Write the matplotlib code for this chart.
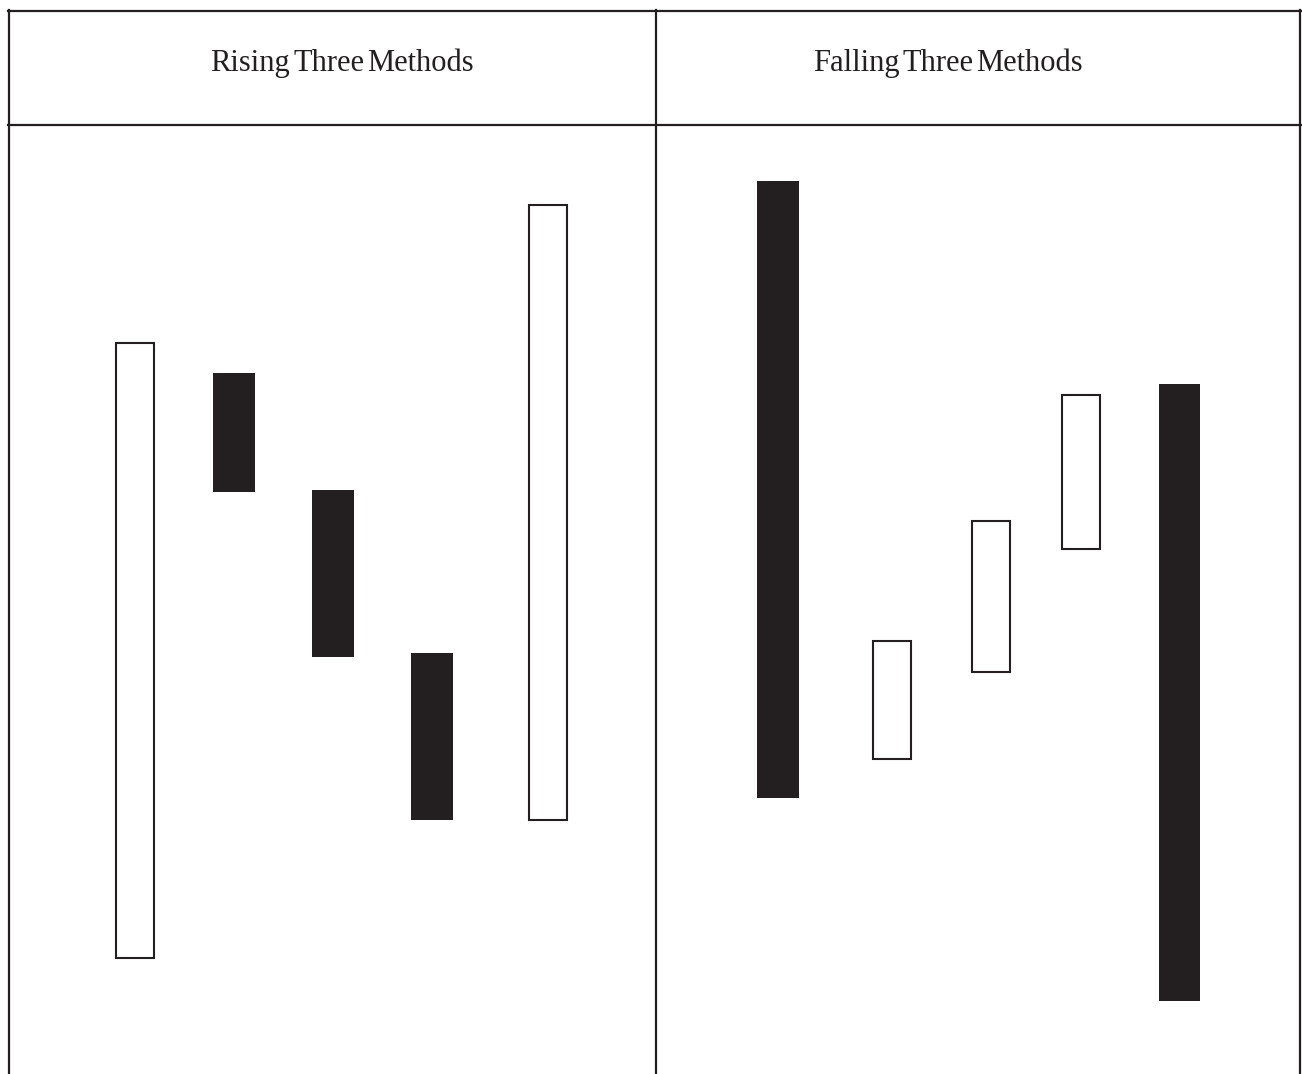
import matplotlib
matplotlib.use("Agg")
import matplotlib.pyplot as plt
from matplotlib.lines import Line2D

INK = '#231f20'

# Pattern titles
titles = ['Rising Three Methods', 'Falling Three Methods']

# Session positions of the five candles in each pattern
rising_x = [1, 2, 3, 4, 5.17]
falling_x = [1, 2.15, 3.15, 4.06, 5.06]

# Open / close prices (arbitrary price units)
rising_open = [11.6, 70.1, 58.4, 42.1, 25.4]
rising_close = [73.1, 58.2, 41.7, 25.4, 86.9]
falling_open = [89.3, 31.5, 40.2, 52.5, 69.0]
falling_close = [27.6, 43.3, 55.3, 67.9, 7.3]

W, H = 1302, 1074
fig = plt.figure(figsize=(W / 100, H / 100), dpi=100)
fig.patch.set_facecolor('white')


def draw_candles(ax, xs, opens, closes):
    """Draw hollow (up) and filled (down) candle bodies."""
    for x, o, c in zip(xs, opens, closes):
        if c >= o:
            ax.bar(x, c - o, bottom=o, width=0.385, facecolor='white',
                   edgecolor=INK, linewidth=1.5, zorder=3)
        else:
            ax.bar(x, c - o, bottom=o, width=0.415, facecolor=INK,
                   edgecolor='none', zorder=3)


# panel rectangles in pixels: left, right
panels = [(9, 656, -0.273), (656, 1300, -0.232)]
data = [(rising_x, rising_open, rising_close),
        (falling_x, falling_open, falling_close)]

for (x0, x1, xmin), (xs, opens, closes) in zip(panels, data):
    ax = fig.add_axes([x0 / W, 0, (x1 - x0) / W, (H - 125) / H])
    draw_candles(ax, xs, opens, closes)
    ax.set_xlim(xmin, xmin + (x1 - x0) / 99)
    ax.set_ylim(0, (H - 125) / 10)
    ax.axis('off')

# Frame and header grid drawn in pixel space
frame = fig.add_axes([0, 0, 1, 1], zorder=5)
frame.set_xlim(0, W)
frame.set_ylim(H, 0)
frame.axis('off')
frame.patch.set_alpha(0)
lw = 1.6
for y in (11, 125):
    frame.add_line(Line2D([8, 1301], [y, y], color=INK, linewidth=lw))
for x in (9, 656, 1300):
    frame.add_line(Line2D([x, x], [10, H], color=INK, linewidth=lw))

# Titles: set word by word with the tight spacing of the original
renderer = fig.canvas.get_renderer()
word_gap = 3
for title, xc in zip(titles, (342, 948)):
    words = []
    for w in title.split():
        t = frame.text(0, 71, w, ha='left', va='baseline', fontsize=22,
                       family='Liberation Serif', color=INK)
        words.append((t, t.get_window_extent(renderer).width))
    total = sum(wd for _, wd in words) + word_gap * (len(words) - 1)
    x = xc - total / 2
    for t, wd in words:
        t.set_x(x)
        x += wd + word_gap

fig.savefig('out.png', dpi=100)
